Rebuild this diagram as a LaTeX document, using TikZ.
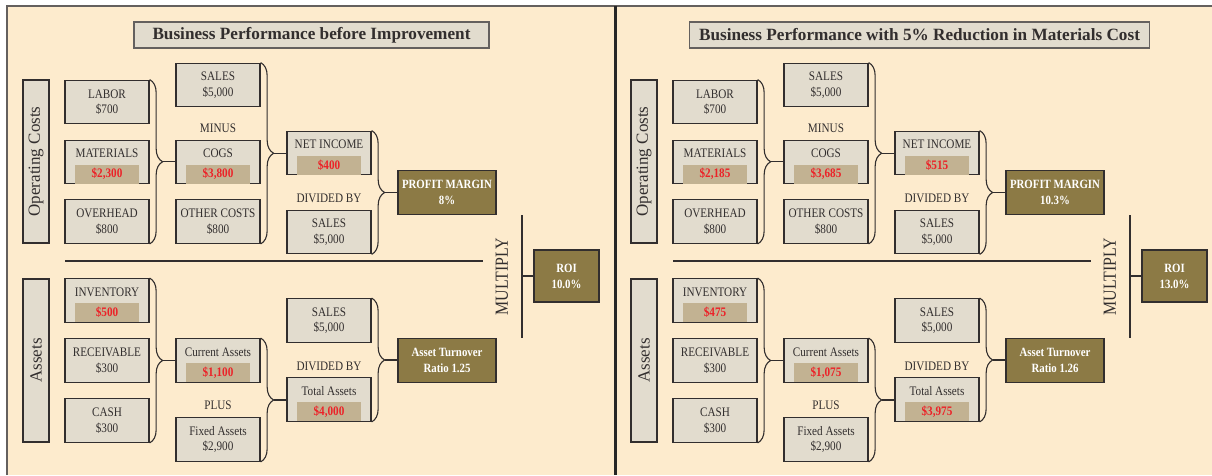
\documentclass[tikz,border=0pt]{standalone}
\usepackage{fontspec}
\setmainfont{Liberation Serif}
\newfontfamily\boxfont[FakeStretch=0.86]{Liberation Serif}
\usetikzlibrary{calc,decorations.pathreplacing}

\definecolor{paper}{RGB}{253,235,205}
\definecolor{boxfill}{RGB}{226,220,206}
\definecolor{tanfill}{RGB}{194,178,146}
\definecolor{olive}{RGB}{140,122,69}
\definecolor{valred}{RGB}{236,34,40}
\definecolor{inkgray}{RGB}{50,46,46}
\definecolor{rulegray}{RGB}{100,96,94}

\begin{document}
\begin{tikzpicture}[x=1pt,y=-1pt,
  cbox/.style={draw=inkgray,fill=boxfill,line width=1.3pt,minimum width=84,minimum height=43.5,inner sep=0pt,align=center,text=inkgray,font=\boxfont\fontsize{13}{15.5}\selectfont},
  lbl/.style={inner sep=0pt,text=inkgray,font=\boxfont\fontsize{13}{15.5}\selectfont},
  valbar/.style={fill=tanfill,minimum width=64,minimum height=19,inner sep=0pt,anchor=south,text=valred,font=\boxfont\fontsize{13}{15}\selectfont\bfseries},
  rbox/.style={draw=inkgray,fill=olive,line width=1.3pt,minimum width=98,minimum height=43.5,inner sep=0pt,align=center,text=white,font=\boxfont\fontsize{12.6}{16}\selectfont\bfseries},
  catbox/.style={draw=inkgray,fill=boxfill,line width=1.3pt,rotate=90,minimum width=163,minimum height=26,inner sep=0pt,text=inkgray,font=\fontsize{17}{20}\selectfont},
  titlebox/.style={draw=rulegray,fill=boxfill,line width=1.6pt,minimum height=26,inner sep=0pt,text=inkgray,font=\fontsize{17.2}{20}\selectfont\bfseries},
  brc/.style={draw=inkgray,line width=1.1pt,decorate,decoration={brace,amplitude=13pt}},
  link/.style={draw=inkgray,line width=1.1pt}]
\useasboundingbox (0,0) rectangle (1212,475);
\fill[white] (0,0) rectangle (1212,475);
\fill[paper] (7,6) rectangle (1212,475);
\draw[rulegray,line width=1.7pt] (7,475) -- (7,6) -- (1212,6);
\draw[black!85,line width=2.5pt] (615.5,6) -- (615.5,475);

\foreach \dx/\ttl/\tw/\vmat/\vcogs/\vni/\vpm/\vinv/\vcur/\vtot/\vrat/\vroi in {
  0/{Business Performance before Improvement}/355/{\$2,300}/{\$3,800}/{\$400}/{8\%}/{\$500}/{\$1,100}/{\$4,000}/{1.25}/{10.0\%},
  608/{Business Performance with 5\% Reduction in Materials Cost}/460/{\$2,185}/{\$3,685}/{\$515}/{10.3\%}/{\$475}/{\$1,075}/{\$3,975}/{1.26}/{13.0\%}}
{
\begin{scope}[xshift=\dx]
\node[titlebox,minimum width=\tw] (ttl) at (311.5,35) {\ttl};
% operating costs -> profit margin
\node[catbox] (opc) at (36,161.5) {Operating Costs};
\node[cbox] (lab) at (107,102) {LABOR\\\$700};
\node[cbox] (mat) at (107,162) {};
\node[lbl] (mat-l) at ([yshift=-14pt]mat.north) {MATERIALS};
\node[valbar] (mat-v) at ([yshift=.65pt]mat.south) {\vmat};
\node[cbox] (ovh) at (107,221.5) {OVERHEAD\\\$800};
\node[cbox] (sal-a) at (218,85) {SALES\\\$5,000};
\node[lbl] (minus) at (218,128) {MINUS};
\node[cbox] (cogs) at (218,162) {};
\node[lbl] (cogs-l) at ([yshift=-14pt]cogs.north) {COGS};
\node[valbar] (cogs-v) at ([yshift=.65pt]cogs.south) {\vcogs};
\node[cbox] (oth) at (218,221.5) {OTHER COSTS\\\$800};
\node[cbox] (ni) at (329,153) {};
\node[lbl] (ni-l) at ([yshift=-14pt]ni.north) {NET INCOME};
\node[valbar] (ni-v) at ([yshift=.65pt]ni.south) {\vni};
\node[lbl] (div-a) at (329,198) {DIVIDED BY};
\node[cbox] (sal-b) at (329,232) {SALES\\\$5,000};
\node[rbox] (pm) at (447,192.5) {PROFIT MARGIN\\\vpm};
\draw[brc] (lab.north east) -- (ovh.south east);
\coordinate (t1) at ($(lab.north east)!.5!(ovh.south east)+(13,0)$);
\draw[link] (t1) -- (t1 -| cogs.west);
\draw[brc] (sal-a.north east) -- (oth.south east);
\coordinate (t2) at ($(sal-a.north east)!.5!(oth.south east)+(13,0)$);
\draw[link] (t2) -- (t2 -| ni.west);
\draw[brc] (ni.north east) -- (sal-b.south east);
\coordinate (t3) at ($(ni.north east)!.5!(sal-b.south east)+(13,0)$);
\draw[link] (t3) -- (t3 -| pm.west);
% multiply
\draw[link] (65,261) -- (483,261);
\node[lbl,rotate=90,font=\boxfont\fontsize{18.5}{20}\selectfont] (mul) at (502,276.5) {MULTIPLY};
\coordinate (mtop) at (522,215);
\coordinate (mbot) at (522,338);
\draw[link] (mtop) -- (mbot);
\node[rbox,minimum width=65,minimum height=52] (roi) at (566.5,276) {ROI\\\vroi};
\draw[link] (roi.west) -- (roi.west -| mtop);
% assets -> turnover
\node[catbox] (ast) at (36,360.5) {Assets};
\node[cbox] (inv) at (107,300.5) {};
\node[lbl] (inv-l) at ([yshift=-14pt]inv.north) {INVENTORY};
\node[valbar] (inv-v) at ([yshift=.65pt]inv.south) {\vinv};
\node[cbox] (rec) at (107,360.5) {RECEIVABLE\\\$300};
\node[cbox] (cash) at (107,420.5) {CASH\\\$300};
\node[cbox] (cur) at (218,360.5) {};
\node[lbl] (cur-l) at ([yshift=-14pt]cur.north) {Current Assets};
\node[valbar] (cur-v) at ([yshift=.65pt]cur.south) {\vcur};
\node[lbl] (plus) at (218,405) {PLUS};
\node[cbox] (fix) at (218,439.5) {Fixed Assets\\\$2,900};
\node[cbox] (sal-c) at (329,320.5) {SALES\\\$5,000};
\node[lbl] (div-b) at (329,366) {DIVIDED BY};
\node[cbox] (tot) at (329,399.5) {};
\node[lbl] (tot-l) at ([yshift=-14pt]tot.north) {Total Assets};
\node[valbar] (tot-v) at ([yshift=.65pt]tot.south) {\vtot};
\node[rbox] (atr) at (447,360.5) {Asset Turnover\\Ratio \vrat};
\draw[brc] (inv.north east) -- (cash.south east);
\coordinate (t4) at ($(inv.north east)!.5!(cash.south east)+(13,0)$);
\draw[link] (t4) -- (t4 -| cur.west);
\draw[brc] (cur.north east) -- (fix.south east);
\coordinate (t5) at ($(cur.north east)!.5!(fix.south east)+(13,0)$);
\draw[link] (t5) -- (t5 -| tot.west);
\draw[brc] (sal-c.north east) -- (tot.south east);
\coordinate (t6) at ($(sal-c.north east)!.5!(tot.south east)+(13,0)$);
\draw[link] (t6) -- (t6 -| atr.west);
\end{scope}
}
\end{tikzpicture}
\end{document}
